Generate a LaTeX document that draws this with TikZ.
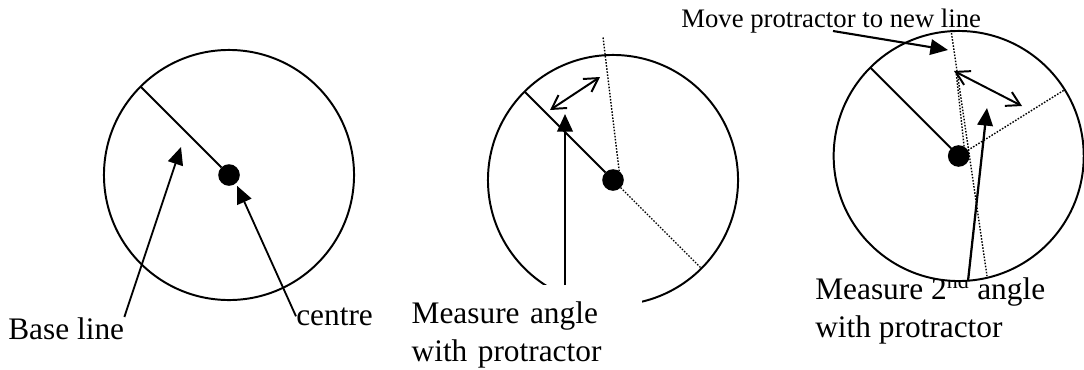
\documentclass[tikz,border=0pt]{standalone}
\usepackage{fontspec}
\setmainfont{Liberation Serif}
\usepackage{tikz}
\usetikzlibrary{arrows.meta}

\begin{document}
\begin{tikzpicture}[
    x=0.025cm, y=-0.025cm,
    ring/.style={circle, draw=black, fill=white, line width=1.4pt, minimum size=6.25cm,
                 inner sep=0pt, outer sep=0pt},
    hub/.style={circle, fill=black, minimum size=0.54cm, inner sep=0pt, outer sep=0pt},
    label/.style={inner sep=0pt, align=left, font=\fontsize{22.3}{27}\selectfont},
    solidline/.style={line width=1.4pt},
    dotline/.style={line width=1pt, dash pattern=on 1.1pt off 1.1pt},
    pointer/.style={line width=1.3pt, -{Triangle[length=12.5pt, width=11pt]}},
    swing/.style={line width=1.4pt, {Straight Barb[length=9.5pt, width=11pt]}-{Straight Barb[length=9.5pt, width=11pt]}},
]
\useasboundingbox (0,0) rectangle (1084,369);

\node[ring] (ring1) at (229,175) {};
\node[hub] (hub1) at (229,175) {};
\node[label, anchor=base west] (base1) at (8,339) {Base line};
\node[label, anchor=base west] (centre1) at (296,325) {centre};
\coordinate (tipbase) at (181,147);
\draw[solidline] (hub1.135) -- (ring1.135);
\draw[pointer] (base1.north east) -- (tipbase);
\draw[pointer, shorten >=2pt] (centre1.west) -- (hub1.-50);

\node[ring] (ring2) at (613,180) {};
\node[hub] (hub2) at (613,180) {};
\coordinate (top2) at (603,37);
\coordinate (swinga2) at (550,110);
\coordinate (swingb2) at (600,77);
\coordinate (tip2) at (565,114);
\draw[solidline] (hub2.135) -- (ring2.135);
\draw[dotline] (hub2.55) -- (top2);
\draw[dotline] (hub2.-45) -- (ring2.-45);
\draw[swing] (swinga2) -- (swingb2);
\node[label, anchor=north east, fill=white, text width=5.75cm, inner ysep=11.4pt] (measure2) at (642,285)
    {Measure angle\\with protractor};
\draw[pointer, line width=1.6pt] (tip2 |- measure2.north) -- (tip2);

\node[label, anchor=north west] (measure3) at (815,273) {Measure 2\textsuperscript{nd} angle\\with protractor};
\node[ring] (ring3) at (958.7,156) {};
\node[label, anchor=base west, font=\fontsize{19}{23}\selectfont] (move3) at (681,27) {Move protractor to new line};
\coordinate (top3) at (951,30);
\coordinate (low3) at (987,276);
\coordinate (upper3) at (956,71);
\coordinate (swinga3) at (954,71);
\coordinate (swingb3) at (1022,106);
\coordinate (footmove) at (833,31);
\coordinate (tipmove) at (948,50);
\coordinate (foot3) at (968,281);
\coordinate (tip3) at (987,108);
\draw[dotline] (top3) -- (low3);
\node[hub] (hub3) at (958.7,156) {};
\draw[solidline] (hub3.135) -- (ring3.135);
\draw[dotline] (upper3) -- (hub3.60);
\draw[dotline] (hub3.32) -- (ring3.32);
\draw[swing] (swinga3) -- (swingb3);
\draw[pointer, line width=1.5pt] (footmove) -- (tipmove);
\draw[pointer, line width=1.6pt] (foot3) -- (tip3);

\end{tikzpicture}
\end{document}
